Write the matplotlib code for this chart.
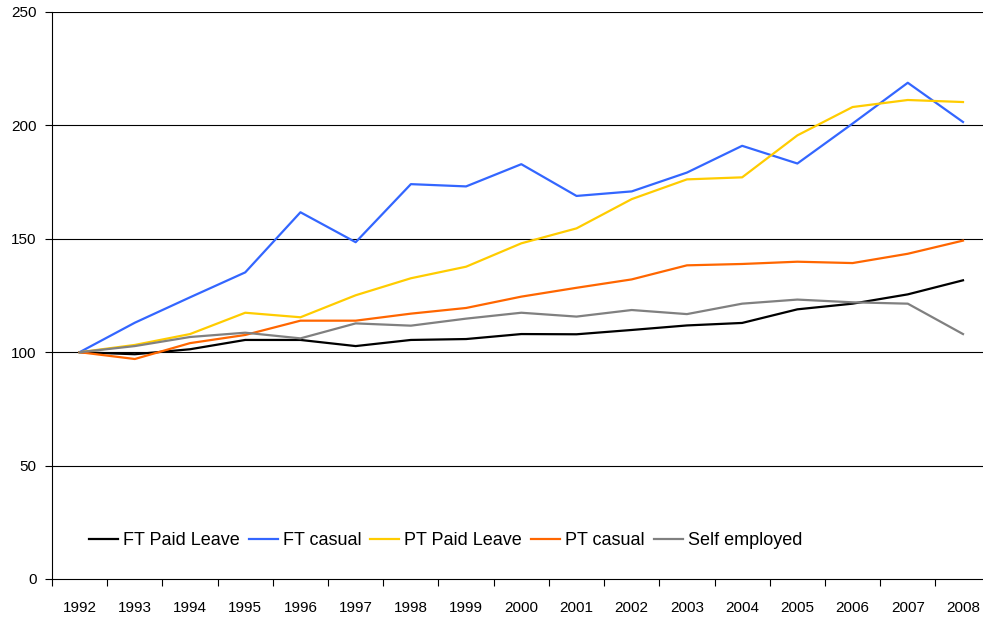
import numpy as np
import matplotlib
matplotlib.use('Agg')
from matplotlib import pyplot as plt

plt.rcParams['font.family'] = ['Liberation Sans', 'DejaVu Sans']

years = ['1992', '1993', '1994', '1995', '1996', '1997', '1998', '1999', '2000',
         '2001', '2002', '2003', '2004', '2005', '2006', '2007', '2008']

ft_paid_leave = [100, 99.1, 101.3, 105.4, 105.4, 102.7, 105.4, 105.8, 108.0,
                 107.9, 109.8, 111.8, 112.9, 118.9, 121.4, 125.5, 131.7]
ft_casual = [100, 113.0, 124.2, 135.2, 161.7, 148.5, 174.1, 173.1, 182.9,
             168.9, 170.9, 179.2, 191.0, 183.2, 200.8, 218.8, 201.5]
pt_paid_leave = [100, 103.2, 108.0, 117.4, 115.4, 125.1, 132.6, 137.7, 148.0,
                 154.6, 167.5, 176.2, 177.1, 195.6, 208.1, 211.2, 210.3]
pt_casual = [100, 97.0, 104.0, 107.6, 113.9, 113.9, 117.0, 119.5, 124.5,
             128.4, 132.1, 138.3, 138.9, 139.9, 139.3, 143.4, 149.2]
self_employed = [100, 102.7, 106.7, 108.6, 106.1, 112.7, 111.7, 114.8, 117.4,
                 115.7, 118.6, 116.8, 121.4, 123.2, 122.0, 121.4, 108.0]

series = [
    ('FT Paid Leave', ft_paid_leave, '#000000'),
    ('FT casual', ft_casual, '#3366FF'),
    ('PT Paid Leave', pt_paid_leave, '#FFCC00'),
    ('PT casual', pt_casual, '#FF6600'),
    ('Self employed', self_employed, '#808080'),
]

fig = plt.figure(figsize=(9.83, 6.17), dpi=100)
ax = fig.add_axes([52 / 983, 38 / 617, 938.6 / 983, 567 / 617])

x = np.arange(len(years))
for nombre, valores, color in series:
    ax.plot(x, valores, color=color, lw=1.6, label=nombre, zorder=3)

ax.set_xlim(-0.5, len(years) - 0.5)
ax.set_ylim(0, 250)
ax.set_yticks([0, 50, 100, 150, 200, 250])
for v in [50, 100, 150, 200, 250]:
    ax.axhline(v, color='black', lw=0.8, zorder=1)

# etiquetas de categoria centradas, marcas en los limites
ax.set_xticks(x)
ax.set_xticklabels(years)
ax.set_xticks(np.arange(-0.5, len(years)), minor=True)
ax.tick_params(axis='x', which='major', length=0, pad=16, labelsize=11)
ax.tick_params(axis='x', which='minor', length=5, width=0.8, direction='out')
ax.tick_params(axis='y', length=5, width=0.8, direction='out', labelsize=11, pad=6)

for s in ['top', 'right']:
    ax.spines[s].set_visible(False)
ax.spines['left'].set_linewidth(0.8)
ax.spines['bottom'].set_linewidth(0.8)

ax.legend(loc='center left', bbox_to_anchor=(0.0394, 0.068), ncol=5, frameon=False,
          fontsize=13, handlelength=1.6, handletextpad=0.28, columnspacing=0.5,
          borderpad=0, borderaxespad=0)

plt.savefig('out.png', dpi=100)
